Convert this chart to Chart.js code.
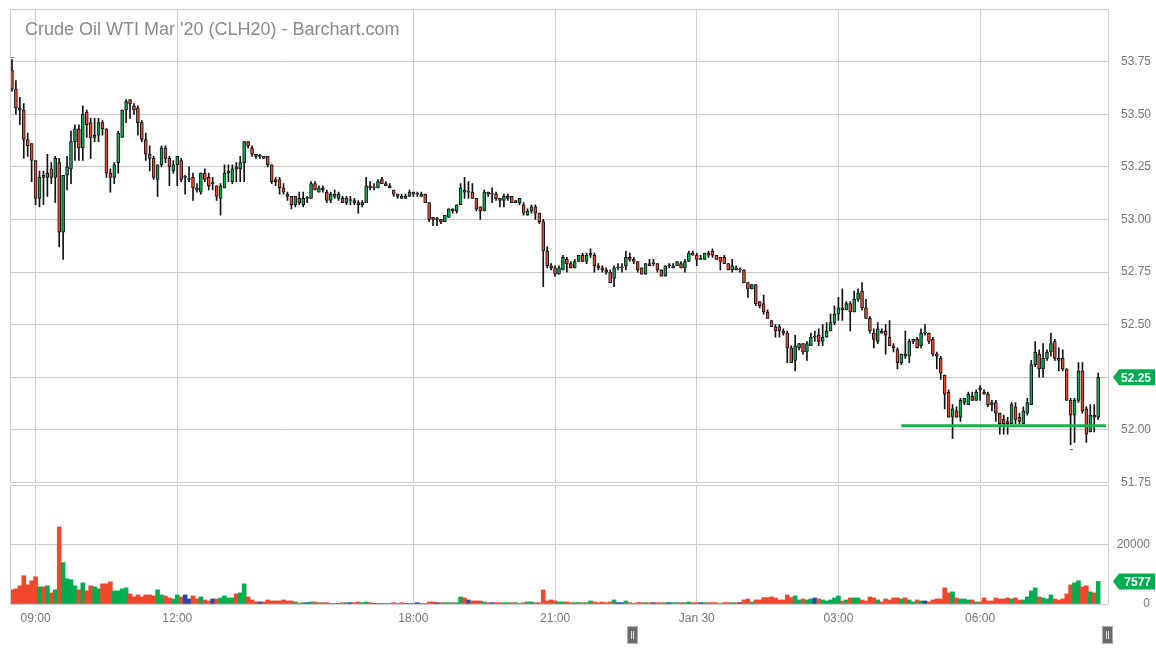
<!DOCTYPE html>
<html>
<head>
<meta charset="utf-8">
<script src="https://cdn.jsdelivr.net/npm/chart.js@4.4.1/dist/chart.umd.min.js"></script>
<style>
  html, body { margin: 0; padding: 0; background: #fff; }
  #wrap { position: relative; width: 1156px; height: 650px; overflow: hidden; }
  canvas { position: absolute; left: 0; }
  #priceChart { top: 0; }
  #volChart { top: 474px; }
</style>
</head>
<body>
<div id="wrap">
  <canvas id="priceChart" width="1156" height="492"></canvas>
  <canvas id="volChart" width="1156" height="176"></canvas>
</div>
<script>
// 5 minute bars, Jan 29 08:30 -> Jan 30 08:30 (17:00-18:00 maintenance break left out)
const opens = [
  53.71, 53.62, 53.53, 53.52, 53.38, 53.36, 53.28, 53.10, 53.21, 53.20,
  53.24, 53.20, 53.27, 52.94, 53.21, 53.24, 53.37, 53.43, 53.34, 53.51,
  53.46, 53.39, 53.40, 53.46, 53.43, 53.22, 53.20, 53.27, 53.39, 53.52,
  53.57, 53.54, 53.53, 53.46, 53.38, 53.31, 53.29, 53.19, 53.26, 53.34,
  53.29, 53.23, 53.26, 53.28, 53.20, 53.19, 53.20, 53.15, 53.13, 53.22,
  53.20, 53.17, 53.16, 53.10, 53.15, 53.22, 53.18, 53.25, 53.24, 53.27,
  53.37, 53.34, 53.31, 53.30, 53.30, 53.30, 53.26, 53.19, 53.19, 53.15,
  53.12, 53.11, 53.07, 53.10, 53.07, 53.10, 53.10, 53.17, 53.13, 53.15,
  53.13, 53.09, 53.12, 53.10, 53.10, 53.08, 53.09, 53.09, 53.08, 53.07,
  53.08, 53.16, 53.15, 53.15, 53.19, 53.17, 53.16, 53.14, 53.11, 53.11,
  53.10, 53.11, 53.13, 53.12, 53.11, 53.12, 53.08, 53.01, 53.00, 53.00,
  52.99, 53.01, 53.05, 53.04, 53.07, 53.14, 53.13, 53.13, 53.10, 53.06,
  53.04, 53.13, 53.12, 53.12, 53.10, 53.09, 53.10, 53.11, 53.08, 53.08,
  53.07, 53.02, 53.04, 53.06, 53.03, 52.99, 52.85, 52.78, 52.77, 52.74,
  52.76, 52.81, 52.79, 52.77, 52.80, 52.83, 52.80, 52.83, 52.83, 52.78,
  52.77, 52.76, 52.75, 52.72, 52.77, 52.77, 52.78, 52.82, 52.81, 52.80,
  52.77, 52.74, 52.79, 52.79, 52.79, 52.76, 52.73, 52.78, 52.77, 52.78,
  52.79, 52.77, 52.80, 52.84, 52.83, 52.81, 52.81, 52.84, 52.85, 52.83,
  52.82, 52.82, 52.79, 52.76, 52.77, 52.76, 52.76, 52.70, 52.67, 52.69,
  52.61, 52.60, 52.56, 52.52, 52.49, 52.49, 52.47, 52.46, 52.39, 52.33,
  52.39, 52.41, 52.37, 52.40, 52.44, 52.45, 52.42, 52.44, 52.47, 52.51,
  52.55, 52.58, 52.57, 52.60, 52.56, 52.62, 52.66, 52.58, 52.53, 52.46,
  52.42, 52.47, 52.47, 52.44, 52.40, 52.38, 52.32, 52.36, 52.35, 52.42,
  52.43, 52.40, 52.46, 52.46, 52.43, 52.36, 52.34, 52.26, 52.18, 52.06,
  52.09, 52.06, 52.13, 52.12, 52.16, 52.14, 52.20, 52.18, 52.17, 52.13,
  52.13, 52.08, 52.05, 52.04, 52.03, 52.11, 52.06, 52.03, 52.08, 52.12,
  52.31, 52.36, 52.29, 52.34, 52.37, 52.42, 52.34, 52.34, 52.29, 52.14,
  52.07, 52.14, 52.28, 52.10, 51.99, 52.07, 52.06
];
const highs = [
  53.76, 53.66, 53.58, 53.55, 53.41, 53.36, 53.28, 53.23, 53.23, 53.31,
  53.27, 53.30, 53.29, 53.21, 53.30, 53.42, 53.45, 53.45, 53.54, 53.52,
  53.48, 53.48, 53.48, 53.47, 53.43, 53.24, 53.27, 53.42, 53.52, 53.57,
  53.57, 53.55, 53.54, 53.47, 53.41, 53.35, 53.30, 53.26, 53.35, 53.35,
  53.30, 53.28, 53.30, 53.29, 53.21, 53.25, 53.22, 53.17, 53.22, 53.24,
  53.22, 53.20, 53.16, 53.17, 53.26, 53.26, 53.26, 53.27, 53.30, 53.37,
  53.37, 53.35, 53.31, 53.31, 53.30, 53.30, 53.26, 53.20, 53.20, 53.17,
  53.13, 53.11, 53.11, 53.13, 53.13, 53.11, 53.18, 53.18, 53.16, 53.16,
  53.14, 53.13, 53.14, 53.13, 53.11, 53.11, 53.11, 53.10, 53.09, 53.09,
  53.20, 53.18, 53.17, 53.19, 53.20, 53.18, 53.17, 53.14, 53.12, 53.12,
  53.12, 53.14, 53.13, 53.13, 53.13, 53.12, 53.08, 53.01, 53.01, 53.00,
  53.02, 53.05, 53.05, 53.07, 53.17, 53.20, 53.18, 53.17, 53.10, 53.06,
  53.14, 53.13, 53.15, 53.13, 53.10, 53.12, 53.12, 53.11, 53.09, 53.10,
  53.08, 53.05, 53.07, 53.07, 53.03, 53.00, 52.87, 52.79, 52.78, 52.78,
  52.83, 52.82, 52.80, 52.81, 52.83, 52.84, 52.84, 52.86, 52.84, 52.79,
  52.78, 52.77, 52.76, 52.78, 52.79, 52.79, 52.85, 52.84, 52.82, 52.80,
  52.77, 52.79, 52.81, 52.81, 52.79, 52.76, 52.78, 52.79, 52.79, 52.80,
  52.80, 52.81, 52.85, 52.85, 52.84, 52.83, 52.84, 52.85, 52.86, 52.83,
  52.82, 52.83, 52.79, 52.81, 52.78, 52.77, 52.76, 52.70, 52.69, 52.69,
  52.61, 52.64, 52.57, 52.52, 52.50, 52.50, 52.48, 52.47, 52.40, 52.45,
  52.41, 52.41, 52.42, 52.46, 52.47, 52.48, 52.50, 52.51, 52.55, 52.59,
  52.63, 52.67, 52.61, 52.61, 52.66, 52.67, 52.70, 52.62, 52.54, 52.48,
  52.51, 52.48, 52.50, 52.52, 52.41, 52.39, 52.36, 52.47, 52.43, 52.43,
  52.44, 52.48, 52.50, 52.46, 52.44, 52.37, 52.35, 52.26, 52.19, 52.12,
  52.11, 52.15, 52.15, 52.18, 52.18, 52.19, 52.21, 52.19, 52.18, 52.14,
  52.14, 52.08, 52.07, 52.06, 52.13, 52.13, 52.08, 52.11, 52.15, 52.33,
  52.42, 52.38, 52.41, 52.38, 52.46, 52.43, 52.39, 52.38, 52.29, 52.15,
  52.15, 52.32, 52.32, 52.11, 52.12, 52.12, 52.27
];
const lows = [
  53.61, 53.50, 53.45, 53.29, 53.30, 53.18, 53.07, 53.06, 53.07, 53.11,
  53.17, 53.08, 52.87, 52.81, 53.14, 53.17, 53.28, 53.28, 53.28, 53.39,
  53.29, 53.37, 53.37, 53.40, 53.20, 53.13, 53.17, 53.22, 53.39, 53.46,
  53.48, 53.50, 53.40, 53.37, 53.28, 53.23, 53.19, 53.11, 53.25, 53.27,
  53.16, 53.22, 53.16, 53.18, 53.12, 53.18, 53.09, 53.13, 53.12, 53.18,
  53.14, 53.14, 53.09, 53.02, 53.15, 53.18, 53.17, 53.18, 53.18, 53.18,
  53.34, 53.30, 53.29, 53.29, 53.29, 53.25, 53.17, 53.16, 53.12, 53.12,
  53.09, 53.05, 53.06, 53.07, 53.06, 53.08, 53.10, 53.14, 53.13, 53.13,
  53.08, 53.08, 53.10, 53.09, 53.08, 53.07, 53.07, 53.07, 53.03, 53.06,
  53.08, 53.14, 53.14, 53.15, 53.17, 53.16, 53.15, 53.11, 53.10, 53.10,
  53.10, 53.11, 53.11, 53.11, 53.11, 53.08, 52.99, 52.97, 52.97, 52.98,
  52.99, 53.01, 53.03, 53.03, 53.07, 53.10, 53.10, 53.10, 53.04, 53.00,
  53.04, 53.11, 53.08, 53.09, 53.06, 53.06, 53.09, 53.08, 53.08, 53.07,
  53.02, 53.02, 53.03, 53.00, 52.98, 52.68, 52.77, 52.76, 52.73, 52.74,
  52.76, 52.75, 52.77, 52.77, 52.80, 52.80, 52.79, 52.82, 52.75, 52.76,
  52.75, 52.74, 52.70, 52.68, 52.76, 52.75, 52.76, 52.80, 52.79, 52.75,
  52.74, 52.74, 52.78, 52.78, 52.75, 52.73, 52.73, 52.77, 52.77, 52.78,
  52.77, 52.75, 52.80, 52.83, 52.78, 52.81, 52.81, 52.82, 52.82, 52.81,
  52.76, 52.79, 52.76, 52.75, 52.76, 52.75, 52.70, 52.63, 52.67, 52.59,
  52.58, 52.55, 52.53, 52.49, 52.44, 52.44, 52.45, 52.32, 52.32, 52.28,
  52.38, 52.36, 52.33, 52.40, 52.42, 52.40, 52.40, 52.44, 52.47, 52.50,
  52.52, 52.52, 52.57, 52.47, 52.56, 52.61, 52.57, 52.53, 52.46, 52.39,
  52.41, 52.46, 52.36, 52.40, 52.37, 52.29, 52.31, 52.34, 52.32, 52.41,
  52.39, 52.39, 52.45, 52.41, 52.35, 52.29, 52.24, 52.10, 52.06, 51.96,
  52.06, 52.04, 52.12, 52.12, 52.14, 52.14, 52.14, 52.17, 52.11, 52.09,
  52.04, 51.98, 51.98, 51.98, 52.03, 52.03, 52.03, 52.03, 52.07, 52.12,
  52.30, 52.25, 52.25, 52.33, 52.35, 52.33, 52.28, 52.28, 52.14, 51.93,
  51.94, 52.13, 52.08, 51.94, 51.99, 51.99, 52.05
];
const closes = [
  53.62, 53.53, 53.52, 53.38, 53.35, 53.28, 53.10, 53.20, 53.20, 53.22,
  53.20, 53.29, 52.94, 53.21, 53.25, 53.37, 53.43, 53.34, 53.50, 53.45,
  53.39, 53.40, 53.46, 53.43, 53.22, 53.20, 53.26, 53.41, 53.52, 53.56,
  53.55, 53.52, 53.46, 53.38, 53.31, 53.29, 53.20, 53.26, 53.34, 53.29,
  53.25, 53.26, 53.30, 53.19, 53.20, 53.19, 53.15, 53.14, 53.22, 53.19,
  53.16, 53.17, 53.11, 53.16, 53.22, 53.23, 53.24, 53.24, 53.27, 53.37,
  53.35, 53.31, 53.30, 53.30, 53.29, 53.26, 53.18, 53.18, 53.15, 53.13,
  53.11, 53.07, 53.11, 53.08, 53.10, 53.10, 53.17, 53.14, 53.15, 53.14,
  53.09, 53.12, 53.11, 53.12, 53.08, 53.10, 53.09, 53.08, 53.07, 53.08,
  53.16, 53.15, 53.15, 53.18, 53.17, 53.16, 53.15, 53.12, 53.12, 53.10,
  53.11, 53.13, 53.12, 53.12, 53.12, 53.08, 53.00, 53.00, 53.00, 52.99,
  53.02, 53.05, 53.04, 53.07, 53.15, 53.13, 53.13, 53.10, 53.05, 53.04,
  53.13, 53.12, 53.12, 53.10, 53.09, 53.11, 53.11, 53.08, 53.09, 53.10,
  53.03, 53.04, 53.06, 53.03, 52.99, 52.85, 52.78, 52.77, 52.74, 52.77,
  52.82, 52.79, 52.77, 52.80, 52.83, 52.80, 52.83, 52.84, 52.78, 52.77,
  52.76, 52.75, 52.70, 52.77, 52.77, 52.77, 52.82, 52.81, 52.80, 52.76,
  52.74, 52.79, 52.78, 52.79, 52.76, 52.73, 52.78, 52.78, 52.78, 52.80,
  52.77, 52.80, 52.84, 52.83, 52.81, 52.81, 52.84, 52.83, 52.83, 52.81,
  52.80, 52.79, 52.76, 52.78, 52.76, 52.76, 52.70, 52.67, 52.69, 52.60,
  52.59, 52.56, 52.53, 52.49, 52.47, 52.47, 52.46, 52.39, 52.32, 52.40,
  52.41, 52.37, 52.41, 52.44, 52.44, 52.42, 52.44, 52.47, 52.51, 52.55,
  52.58, 52.57, 52.60, 52.56, 52.62, 52.65, 52.58, 52.53, 52.47, 52.43,
  52.48, 52.46, 52.45, 52.40, 52.39, 52.32, 52.36, 52.35, 52.42, 52.43,
  52.39, 52.46, 52.46, 52.42, 52.36, 52.35, 52.27, 52.17, 52.06, 52.10,
  52.06, 52.14, 52.15, 52.17, 52.14, 52.18, 52.19, 52.17, 52.12, 52.12,
  52.08, 52.03, 52.03, 52.03, 52.12, 52.05, 52.04, 52.09, 52.13, 52.31,
  52.37, 52.29, 52.34, 52.37, 52.41, 52.34, 52.33, 52.29, 52.14, 52.07,
  52.14, 52.28, 52.09, 51.98, 52.07, 52.06, 52.25
];
const volumes = [
  4750, 5090, 6100, 9500, 6440, 7800, 9150, 5760, 5760, 6100,
  3730, 4750, 25900, 13900, 8470, 8140, 6100, 4750, 7120, 4410,
  6100, 5760, 5090, 6780, 6780, 7460, 4410, 4410, 5090, 5420,
  3390, 2370, 3050, 2370, 3050, 3050, 2710, 4750, 3050, 2710,
  2030, 1690, 3050, 2370, 3050, 1690, 2710, 1690, 2370, 1360,
  1020, 1690, 1690, 2030, 2710, 2030, 2030, 3390, 3730, 6780,
  2370, 1360, 700, 700, 700, 1360, 1020, 1020, 1020, 1360,
  1020, 1020, 700, 350, 450, 450, 680, 680, 450, 450,
  450, 120, 120, 120, 450, 450, 450, 450, 680, 450,
  680, 450, 120, 120, 120, 120, 120, 450, 120, 450,
  120, 120, 120, 450, 120, 120, 680, 680, 450, 450,
  450, 450, 450, 450, 2370, 2030, 1360, 1020, 1020, 1020,
  680, 450, 450, 450, 450, 450, 450, 450, 450, 120,
  450, 680, 680, 450, 450, 4750, 1020, 1360, 1020, 680,
  680, 680, 450, 450, 450, 450, 450, 1020, 680, 450,
  680, 450, 680, 1360, 450, 450, 1020, 450, 120, 450,
  450, 450, 450, 450, 450, 450, 450, 450, 450, 450,
  450, 450, 680, 450, 450, 450, 450, 450, 450, 450,
  120, 450, 450, 450, 450, 450, 1360, 1690, 680, 1360,
  1360, 2140, 2140, 2370, 2030, 1360, 1360, 3050, 2140, 2710,
  1360, 1690, 1360, 1690, 2030, 1690, 1360, 1020, 1360, 2030,
  2710, 1020, 1360, 2030, 2030, 2030, 1360, 1020, 2370, 2030,
  1360, 680, 1690, 1360, 2030, 2030, 1690, 2030, 1360, 680,
  1360, 1020, 1020, 680, 1360, 1690, 1690, 5420, 3730, 4070,
  2030, 1690, 1690, 1360, 1360, 680, 680, 2030, 1020, 1020,
  2030, 1690, 1690, 2030, 1690, 2030, 1360, 1360, 2370, 4410,
  5420, 2370, 2030, 1690, 3050, 1690, 1360, 1690, 3390, 6440,
  7120, 7800, 5760, 6100, 4070, 3730, 7577
];
const tickLabels = ['09:00', '12:00', '18:00', '21:00', 'Jan 30', '03:00', '06:00'];
const priceTicks = { min: 51.75, max: 54, step: 0.25 };
const volumeTicks = { min: 0, max: 40000, step: 20000 };
const supportLevel = 52.02;
const supportFrom = 226;
const title = "Crude Oil WTI Mar '20 (CLH20) - Barchart.com";

// category labels: 08:30 open, no bars 17:00-17:55, two empty slots on the right
const timeLabels = [];
for (let i = 0; i < opens.length + 2; i++) {
    let m = (i < 102 ? 510 + 5 * i : 1080 + 5 * (i - 102)) % 1440;
    const hh = String(Math.floor(m / 60)).padStart(2, '0');
    const mm = String(m % 60).padStart(2, '0');
    timeLabels.push(m === 0 ? 'Jan 30' : hh + ':' + mm);
}

const UP = '#00ad4f', DOWN = '#f0472b', FLAT = '#2149b6';
const GRID = '#cdcdcd';
const FONT = 'Arial, "Liberation Sans", sans-serif';
const dirColor = i => closes[i] > opens[i] ? UP : (closes[i] < opens[i] ? DOWN : FLAT);
const bodyColor = i => closes[i] >= opens[i] ? UP : DOWN;

function xAxis(showLabels) {
    return {
        type: 'category',
        offset: true,
        grid: { color: GRID, offset: false, drawTicks: false },
        border: { display: false },
        ticks: { display: showLabels, autoSkip: false, maxRotation: 0, padding: 7, color: '#777', font: { family: FONT, size: 12 } },
        afterBuildTicks(scale) {
            scale.ticks = scale.ticks.filter(t => tickLabels.includes(timeLabels[t.value]));
        },
        afterFit(scale) { scale.height = showLabels ? 46 : 0; }
    };
}

// labels are right aligned on the scale's right edge, so the scale width sets where they end
function yAxis(range, width, fmt) {
    return {
        position: 'right',
        min: range.min,
        max: range.max,
        grid: { color: GRID, drawTicks: false },
        border: { display: false },
        ticks: {
            stepSize: range.step,
            padding: 0,
            crossAlign: 'far',
            color: '#777',
            font: { family: FONT, size: 12 },
            callback: v => v >= range.max ? '' : fmt(v)
        },
        afterFit(scale) {
            scale.width = width;
            scale.paddingTop = 0;
            scale.paddingBottom = 0;
        }
    };
}

function drawTag(ctx, y, text, color) {
    const tip = 1113, x0 = 1119, x1 = 1155, h = 16;
    ctx.save();
    ctx.fillStyle = color;
    ctx.beginPath();
    ctx.moveTo(tip, y);
    ctx.lineTo(x0, y - h / 2);
    ctx.lineTo(x1, y - h / 2);
    ctx.lineTo(x1, y + h / 2);
    ctx.lineTo(x0, y + h / 2);
    ctx.closePath();
    ctx.fill();
    ctx.fillStyle = '#fff';
    ctx.font = 'bold 12px ' + FONT;
    ctx.textAlign = 'right';
    ctx.textBaseline = 'middle';
    ctx.fillText(text, 1151, y + 1);
    ctx.restore();
}

const framePlugin = {
    id: 'frame',
    afterDraw(chart) {
        const a = chart.chartArea, ctx = chart.ctx;
        ctx.save();
        ctx.strokeStyle = GRID;
        ctx.lineWidth = 1;
        ctx.beginPath();
        ctx.moveTo(Math.round(a.left) + 0.5, a.top);
        ctx.lineTo(Math.round(a.left) + 0.5, a.bottom);
        ctx.moveTo(Math.round(a.right) + 0.5, a.top);
        ctx.lineTo(Math.round(a.right) + 0.5, a.bottom);
        ctx.stroke();
        ctx.restore();
    }
};

const pricePlugin = {
    id: 'priceExtras',
    afterDraw(chart) {
        const ctx = chart.ctx, x = chart.scales.x, y = chart.scales.y;
        // title
        ctx.save();
        ctx.fillStyle = '#8a8a8a';
        ctx.font = '18px ' + FONT;
        ctx.textBaseline = 'alphabetic';
        ctx.fillText(title, 25, 35);
        // session high / low markers
        const hi = highs.indexOf(Math.max(...highs));
        const lo = lows.indexOf(Math.min(...lows));
        ctx.fillStyle = DOWN;
        ctx.fillRect(Math.round(x.getPixelForValue(hi)) - 1, Math.round(y.getPixelForValue(highs[hi])) - 3, 3, 1);
        ctx.fillRect(Math.round(x.getPixelForValue(lo)) - 1, Math.round(y.getPixelForValue(lows[lo])) + 4, 3, 1);
        ctx.restore();
        const last = closes.length - 1;
        drawTag(ctx, y.getPixelForValue(closes[last]), closes[last].toFixed(2), bodyColor(last));
    }
};

const volumePlugin = {
    id: 'volExtras',
    afterDraw(chart) {
        const ctx = chart.ctx, y = chart.scales.y;
        const last = volumes.length - 1;
        drawTag(ctx, y.getPixelForValue(volumes[last]), String(volumes[last]), bodyColor(last));
        // navigator handles under the axis
        const top = chart.chartArea.bottom + 23;
        [632, 1107].forEach(cx => {
            ctx.save();
            ctx.fillStyle = '#6a6a6a';
            ctx.strokeStyle = '#b0b0b0';
            ctx.fillRect(cx - 4, top, 9, 16);
            ctx.strokeRect(cx - 4.5, top - 0.5, 10, 17);
            ctx.fillStyle = '#e6e6e6';
            ctx.fillRect(cx - 1, top + 4, 1, 8);
            ctx.fillRect(cx + 1, top + 4, 1, 8);
            ctx.restore();
        });
    }
};

const common = {
    responsive: false,
    animation: false,
    devicePixelRatio: 1,
    events: [],
    plugins: { legend: { display: false }, tooltip: { enabled: false } }
};

new Chart(document.getElementById('priceChart'), {
    type: 'bar',
    data: {
        labels: timeLabels,
        datasets: [
            {
                type: 'line',
                data: timeLabels.map((_, i) => i >= supportFrom ? supportLevel : null),
                borderColor: '#16b24e',
                borderWidth: 3,
                pointRadius: 0,
                order: 0
            },
            {
                data: opens.map((o, i) => [Math.min(o, closes[i]), Math.max(o, closes[i])]),
                backgroundColor: opens.map((_, i) => bodyColor(i)),
                borderColor: '#111',
                borderWidth: 1,
                borderSkipped: false,
                barThickness: 3,
                minBarLength: 1,
                grouped: false,
                order: 1
            },
            {
                data: lows.map((l, i) => [l, highs[i]]),
                backgroundColor: '#111',
                barThickness: 1,
                grouped: false,
                order: 2
            }
        ]
    },
    options: {
        ...common,
        layout: { padding: { left: 10, top: 9, bottom: 9.5, right: 5 } },
        scales: {
            x: xAxis(false),
            y: yAxis(priceTicks, 43, v => Number(v).toFixed(2))
        }
    },
    plugins: [framePlugin, pricePlugin]
});

new Chart(document.getElementById('volChart'), {
    type: 'bar',
    data: {
        labels: timeLabels,
        datasets: [{
            data: volumes,
            backgroundColor: volumes.map((_, i) => dirColor(i)),
            barPercentage: 1,
            categoryPercentage: 1
        }]
    },
    options: {
        ...common,
        layout: { padding: { left: 10, top: 11, bottom: 0, right: 6 } },
        scales: {
            x: xAxis(true),
            y: yAxis(volumeTicks, 42, v => String(v))
        }
    },
    plugins: [framePlugin, volumePlugin]
});
</script>
</body>
</html>
